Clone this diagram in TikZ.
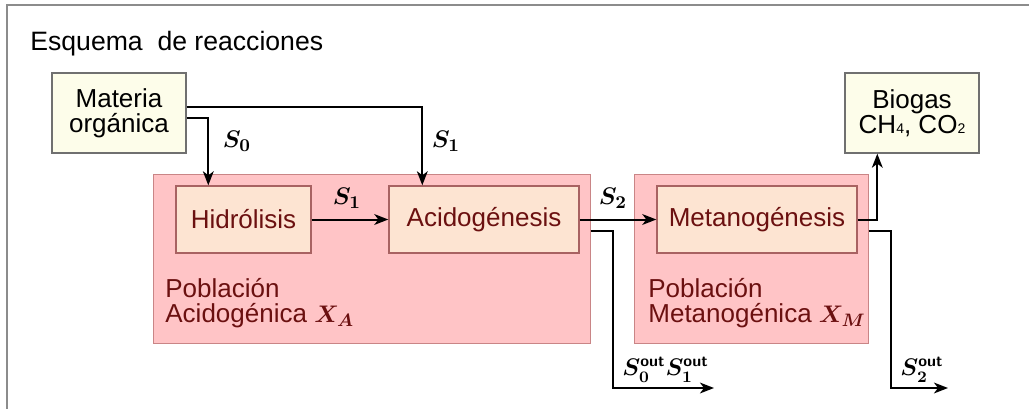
\documentclass[tikz,border=0pt]{standalone}
\usepackage{fontspec}
\setmainfont{Liberation Sans}
\usepackage{amsmath}
\usetikzlibrary{arrows.meta,calc}
\definecolor{popfill}{HTML}{FFC4C6}
\definecolor{popdraw}{HTML}{C98586}
\definecolor{stepfill}{HTML}{FDE4D2}
\definecolor{stepdraw}{HTML}{A86262}
\definecolor{redtext}{HTML}{6B1010}
\definecolor{yelfill}{HTML}{FDFDEA}
\definecolor{yeldraw}{HTML}{707070}
\definecolor{framegray}{HTML}{8C8C8C}
\newcommand{\outsup}{\text{\sffamily\bfseries out}}
\tikzset{
  txt/.style={font=\fontsize{13}{12.5}\selectfont},
  popbox/.style={draw=popdraw, fill=popfill, line width=0.5pt, inner sep=0pt},
  stepbox/.style={draw=stepdraw, fill=stepfill, line width=0.7pt, inner sep=0pt,
     minimum height=33.5pt, text=redtext, txt},
  inoutbox/.style={draw=yeldraw, fill=yelfill, line width=0.7pt, inner sep=0pt,
     minimum width=67pt, minimum height=40pt, align=center, txt},
  poplab/.style={text=redtext, align=left, anchor=north west, inner sep=0pt, txt},
  mlab/.style={inner sep=0pt, font=\fontsize{12.5}{13}\selectfont\boldmath},
  olab/.style={inner sep=0pt, font=\fontsize{12}{13}\selectfont\boldmath},
  arr/.style={line width=1pt, -{Stealth[length=7pt,width=5.4pt,inset=2pt]}},
}
\begin{document}
\begin{tikzpicture}[x=0.5pt, y=-0.5pt]
\useasboundingbox (0,0) rectangle (1029,408);
\draw[framegray, line width=0.75pt] (7,410) -- (7,5) -- (1031,5);
\node[anchor=base west, inner sep=0pt, font=\fontsize{13.3}{13}\selectfont] (title) at (30,50) {Esquema\ \ de reacciones};

\node[inoutbox] (mat) at (119,113) {Materia\\orgánica};
\node[inoutbox] (bio) at (912,113) {Biogas\\CH{\fontsize{7}{7}\selectfont 4}, CO{\fontsize{7}{7}\selectfont 2}};

\node[popbox, minimum width=218.5pt, minimum height=84.5pt] (pop1) at (371.5,258.5) {};
\node[popbox, minimum width=117pt, minimum height=84.5pt] (pop2) at (751,258.5) {};

\node[stepbox, minimum width=67.5pt] (hid) at (243.5,219.5) {Hidrólisis};
\node[stepbox, minimum width=95pt] (acid) at (484,219.5) {Acidogénesis};
\node[stepbox, minimum width=100pt] (met) at (757,219.5) {Metanogénesis};

\node[poplab] (lab1) at (165,278) {Población\\Acidogénica $\boldsymbol{X_A}$};
\node[poplab] (lab2) at (648,278) {Población\\Metanogénica $\boldsymbol{X_M}$};

% arrows
\draw[arr] ($(mat.east)+(0,5)$) -| ($(hid.north west)+(33,0)$);
\draw[arr] ($(mat.east)+(0,-6)$) -| ($(acid.north west)+(34,0)$);
\draw[arr] (hid.east) -- (acid.west);
\draw[arr] (acid.east) -- (met.west);
\draw[arr] (met.east) -| ($(bio.south west)+(33,0)$);

\coordinate (a1) at (pop1.east |- 0,231);
\coordinate (out1) at (714,388);
\draw[arr] (a1) -- ++(22,0) |- (out1);
\coordinate (a2) at (pop2.east |- 0,231);
\coordinate (out2) at (948,388);
\draw[arr] (a2) -- ++(22,0) |- (out2);

% labels
\node[mlab] (s0) at (237,141) {$S_0$};
\node[mlab] (s1a) at (446,141) {$S_1$};
\node[mlab] (s1b) at (347,198) {$S_1$};
\node[mlab] (s2) at (613,198) {$S_2$};
\node[olab, anchor=west] (so1) at (622,370) {$S_0^{\outsup}S_1^{\outsup}$};
\node[olab, anchor=west] (so2) at (900,370) {$S_2^{\outsup}$};
\end{tikzpicture}
\end{document}
